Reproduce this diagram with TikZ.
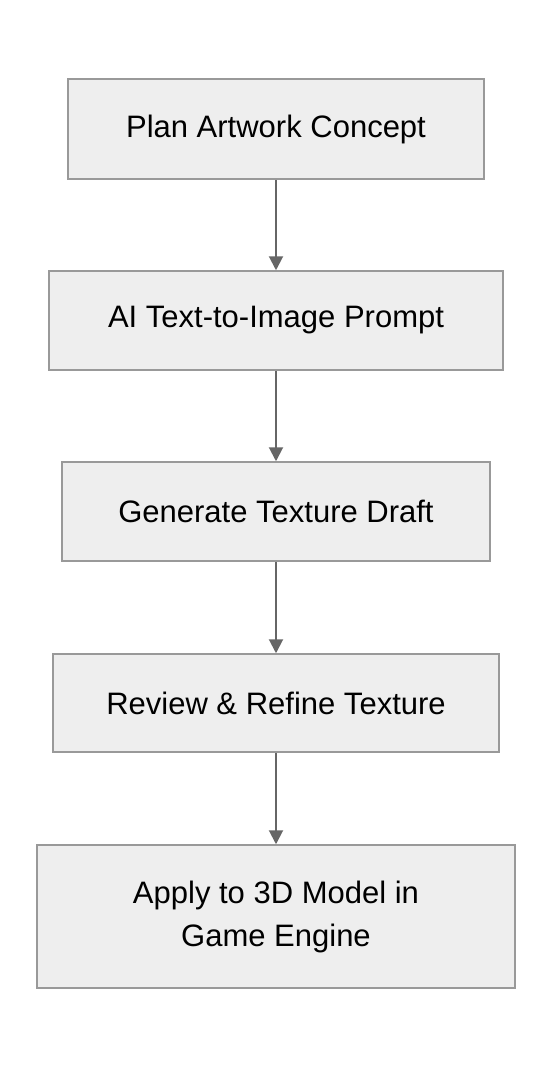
\documentclass[tikz,border=0pt]{standalone}
\usepackage{fontspec}
\setmainfont{Liberation Sans}
\usetikzlibrary{arrows.meta}
\definecolor{boxfill}{HTML}{EEEEEE}
\definecolor{boxline}{HTML}{999999}
\definecolor{flowline}{HTML}{666666}
\tikzset{
    stepbox/.style={draw=boxline, fill=boxfill, line width=1.5pt, inner sep=0pt,
        font=\fontsize{31}{43}\selectfont, align=center},
    flow/.style={draw=flowline, line width=2pt, -{Triangle[length=14pt,width=14pt]}}
}
\begin{document}
\begin{tikzpicture}[x=1pt,y=-1pt]
    \useasboundingbox (0,0) rectangle (552,1068);
    \node[stepbox, minimum width=416pt, minimum height=100pt] (plan) at (276,129) {Plan Artwork Concept};
    \node[stepbox, minimum width=454pt, minimum height=99pt] (prompt) at (276,320.5) {AI Text-to-Image Prompt};
    \node[stepbox, minimum width=428pt, minimum height=99pt] (draft) at (276,511.5) {Generate Texture Draft};
    \node[stepbox, minimum width=446pt, minimum height=98pt] (review) at (276,703) {Review \& Refine Texture};
    \node[stepbox, minimum width=478pt, minimum height=143pt] (apply) at (276,916.5) {Apply to 3D Model in\\Game Engine};
    % arrows
    \draw[flow] (plan) -- (prompt);
    \draw[flow] (prompt) -- (draft);
    \draw[flow] (draft) -- (review);
    \draw[flow] (review) -- (apply);
\end{tikzpicture}
\end{document}
